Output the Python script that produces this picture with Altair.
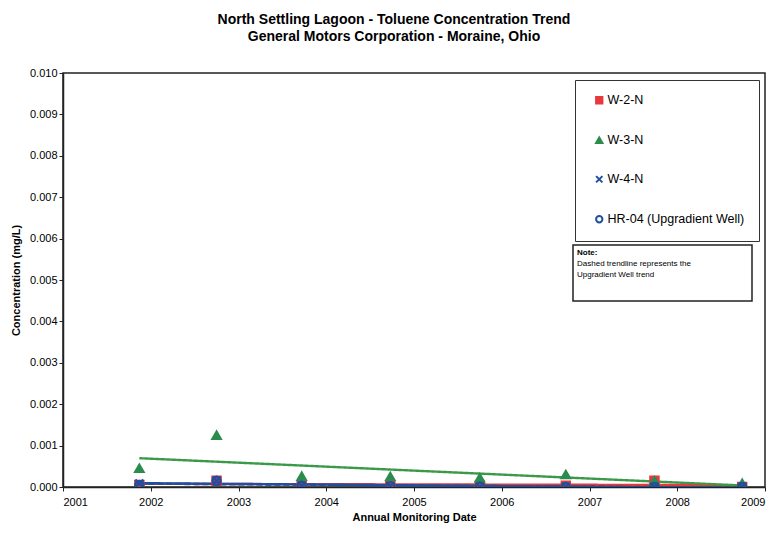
import altair as alt
import pandas as pd

# ---- data ----
dates = [2001.87, 2002.75, 2003.72, 2004.73, 2005.75, 2006.73, 2007.74, 2008.74]
w2n = [0.00005, 0.00015, 0.00004, 0.00004, 0.00003, 0.00003, 0.00015, 0.00000]
w3n = [0.00045, 0.00125, 0.00026, 0.00025, 0.00022, 0.00030, 0.00015, 0.00009]
w4n = [0.00008, 0.00015, 0.00003, 0.00002, 0.00000, 0.00000, 0.00000, 0.00000]
hr04 = [0.00005, 0.00015, 0.00003, 0.00002, 0.00001, 0.00000, 0.00000, 0.00000]
series_names = ["W-2-N", "W-3-N", "W-4-N", "HR-04 (Upgradient Well)"]
series_values = [w2n, w3n, w4n, hr04]
year_ticks = [2001, 2002, 2003, 2004, 2005, 2006, 2007, 2008, 2009]
conc_ticks = [0.000, 0.001, 0.002, 0.003, 0.004, 0.005, 0.006, 0.007, 0.008, 0.009, 0.010]

rows = []
for name, vals in zip(series_names, series_values):
    for d, v in zip(dates, vals):
        rows.append({"date": d, "value": v, "series": name})
df = pd.DataFrame(rows)

strokes = ["#e8383d", "#2b8c4e", "#1f4f9e", "#1f4f9e"]
fills = ["#e8383d", "#2b8c4e", "transparent", "transparent"]
shapes = ["square", "triangle-up", "M-1,-1L1,1M1,-1L-1,1", "circle"]
line_colors = ["#e8383d", "#3a9a4a", "#1f4f9e", "#1f4f9e"]
line_dashes = [[1, 0], [1, 0], [1, 0], [6, 3]]

FONT = "Liberation Sans"

x_enc = alt.X("date:Q", scale=alt.Scale(domain=[2001, 2009], nice=False, zero=False),
              axis=alt.Axis(values=year_ticks, format="d", title="Annual Monitoring Date",
                            titlePadding=4, labelPadding=5))
y_enc = alt.Y("value:Q", scale=alt.Scale(domain=[0, 0.010], nice=False),
              axis=alt.Axis(values=conc_ticks, format=".3f", title="Concentration (mg/L)",
                            titlePadding=8))

base = alt.Chart(df)

trends = []
for name, lc, dash in zip(series_names, line_colors, line_dashes):
    trends.append(
        base.transform_filter(alt.datum.series == name)
        .transform_regression("date", "value")
        .mark_line(strokeWidth=2.4, clip=True, stroke=lc, strokeDash=dash)
        .encode(x=x_enc, y=y_enc)
    )

leg = alt.Legend(title=None, orient="none", legendX=512, legendY=7,
                 direction="vertical", strokeColor="#333333",
                 padding=14, rowPadding=25, labelFontSize=12.5,
                 labelFont=FONT, labelColor="black", symbolSize=40,
                 symbolStrokeWidth=2, labelOffset=2, fillColor="white",
                 labelLimit=300, symbolOffset=4)

points = base.mark_point(size=65, strokeWidth=2.4, opacity=1, clip=True).encode(
    x=x_enc, y=y_enc,
    shape=alt.Shape("series:N", scale=alt.Scale(domain=series_names, range=shapes), legend=leg),
    stroke=alt.Stroke("series:N", scale=alt.Scale(domain=series_names, range=strokes), legend=leg),
    fill=alt.Fill("series:N", scale=alt.Scale(domain=series_names, range=fills), legend=leg),
)

note_box = alt.Chart().mark_rect(fill="white", stroke="#222222", strokeWidth=1.5).encode(
    x=alt.value(510), x2=alt.value(689), y=alt.value(172), y2=alt.value(228))
note_title = alt.Chart().mark_text(align="left", baseline="middle", font=FONT, fontSize=8,
                                   fontWeight="bold", color="black").encode(
    x=alt.value(514), y=alt.value(180), text=alt.value("Note:"))
note_body = alt.Chart().mark_text(align="left", baseline="middle", font=FONT, fontSize=8,
                                  color="black", lineHeight=11).encode(
    x=alt.value(514), y=alt.value(191),
    text=alt.value(["Dashed trendline represents the", "Upgradient Well trend"]))

chart = alt.layer(*trends, points, note_box, note_title, note_body).properties(
    width=702, height=414,
    title=alt.TitleParams(["North Settling Lagoon - Toluene Concentration Trend",
                           "General Motors Corporation - Moraine, Ohio"],
                          font=FONT, fontSize=14, fontWeight="bold", color="black",
                          anchor="middle", dx=-20, offset=23, lineHeight=17),
    autosize=alt.AutoSizeParams(type="none"),
    padding={"left": 55, "top": 65, "right": 4, "bottom": 42},
).configure_view(
    stroke="#222222", strokeWidth=1.5
).configure_axis(
    grid=False, domainColor="#222222", domainWidth=1.5, tickColor="#222222", tickSize=4,
    labelFont=FONT, labelFontSize=11, labelColor="black",
    titleFont=FONT, titleFontSize=11, titleFontWeight="bold", titleColor="black",
)

chart.save("out.html", embed_options={"renderer": "svg", "actions": False})
